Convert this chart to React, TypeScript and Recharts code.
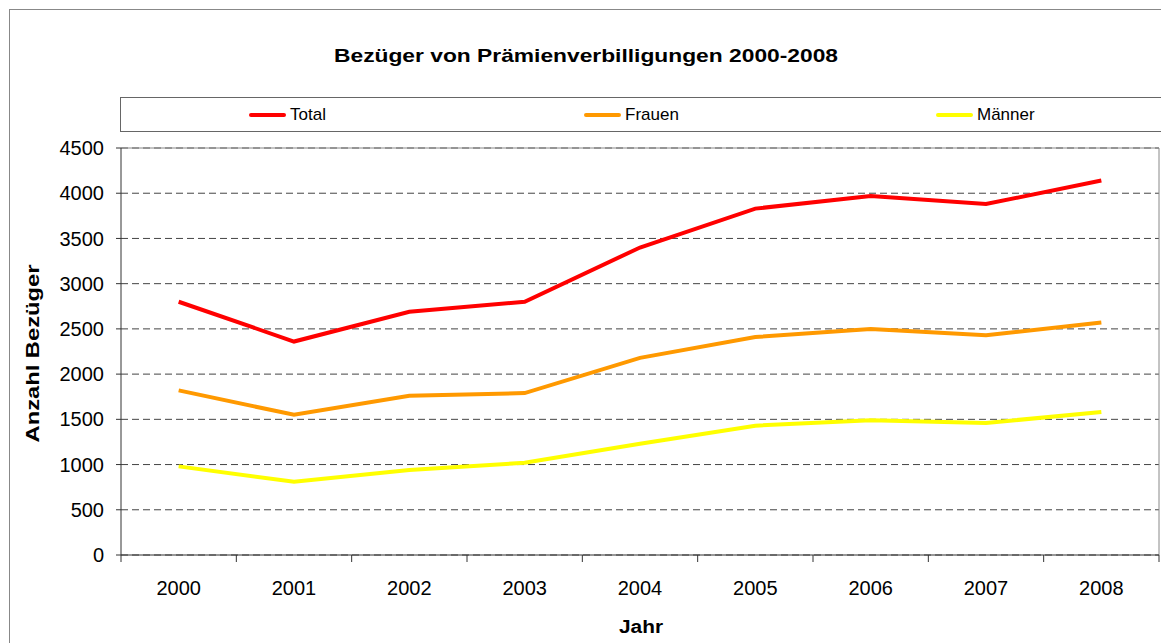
import React from 'react';
import { LineChart, Line, XAxis, YAxis, CartesianGrid, ReferenceLine, Legend, Label } from 'recharts';

const years = ['2000', '2001', '2002', '2003', '2004', '2005', '2006', '2007', '2008'];
const total = [2800, 2360, 2690, 2800, 3400, 3830, 3970, 3880, 4140];
const frauen = [1820, 1550, 1760, 1790, 2180, 2410, 2500, 2430, 2570];
const maenner = [980, 810, 940, 1020, 1230, 1430, 1490, 1460, 1580];
const yTicks = [0, 500, 1000, 1500, 2000, 2500, 3000, 3500, 4000, 4500];
const seriesNames = ['Total', 'Frauen', 'Männer'];
const seriesColors = ['#ff0000', '#ff9900', '#ffff00'];
const titleText = 'Bezüger von Prämienverbilligungen 2000-2008';
const yLabel = 'Anzahl Bezüger';
const xLabel = 'Jahr';

const data = years.map((y, i) => ({ year: y, Total: total[i], Frauen: frauen[i], Männer: maenner[i] }));

const FONT = '"Liberation Sans", Arial, sans-serif';
const W = 1161;
const H = 643;
const MARGIN = { top: 148, right: 2, bottom: 0, left: 0 };
const Y_W = 121;
const X_H = 88;
const BW = (W - MARGIN.left - MARGIN.right - Y_W) / years.length;
const LEGEND_LEFT = 120;
const LEGEND_ITEM_X = [248, 583, 935];

function XTick(props: any) {
  const { x, y, payload, index } = props;
  return (
    <g>
      <line x1={x - BW / 2} x2={x - BW / 2} y1={y} y2={y + 7} stroke="#333" strokeWidth={1} />
      {index === years.length - 1 ? (
        <line x1={x + BW / 2} x2={x + BW / 2} y1={y} y2={y + 7} stroke="#333" strokeWidth={1} />
      ) : null}
      <text x={x} y={y + 40} textAnchor="middle" fontSize={20} fill="#000" fontFamily={FONT}>
        {payload.value}
      </text>
    </g>
  );
}

function LegendBox() {
  return (
    <div
      style={{
        width: W + 4 - LEGEND_LEFT,
        height: 35,
        border: '1px solid #666',
        boxSizing: 'border-box',
        position: 'relative',
        background: '#fff',
        fontFamily: FONT,
      }}
    >
      {seriesNames.map((name, i) => (
        <div
          key={name}
          style={{
            position: 'absolute',
            left: LEGEND_ITEM_X[i] - LEGEND_LEFT,
            top: 0,
            height: 33,
            display: 'flex',
            alignItems: 'center',
          }}
        >
          <div style={{ width: 37, height: 4, background: seriesColors[i], borderRadius: 2 }} />
          <span style={{ marginLeft: 4, fontSize: 17, color: '#000' }}>{name}</span>
        </div>
      ))}
    </div>
  );
}

function YLabelContent(props: any) {
  const vb = props.viewBox || { x: 0, y: 0, width: 0, height: 0 };
  const bx = vb.x + 39;
  const cy = vb.y + vb.height / 2 + 2;
  return (
    <text
      x={bx}
      y={cy}
      transform={`rotate(-90 ${bx} ${cy})`}
      textAnchor="middle"
      textLength={178}
      lengthAdjust="spacingAndGlyphs"
      fontFamily={FONT}
      fontWeight="bold"
      fontSize={19}
      fill="#000"
    >
      {yLabel}
    </text>
  );
}

function XLabelContent(props: any) {
  const vb = props.viewBox || { x: 0, y: 0, width: 0, height: 0 };
  const cx = vb.x + vb.width / 2 + 1;
  const by = vb.y + 78;
  return (
    <text
      x={cx}
      y={by}
      textAnchor="middle"
      textLength={44}
      lengthAdjust="spacingAndGlyphs"
      fontFamily={FONT}
      fontWeight="bold"
      fontSize={18}
      fill="#000"
    >
      {xLabel}
    </text>
  );
}

export default function App() {
  return (
    <div style={{ position: 'absolute', left: 0, top: 0, width: W, height: H, overflow: 'hidden', background: '#fff' }}>
      <div
        style={{
          position: 'absolute',
          left: 9,
          top: 9,
          width: W + 50,
          height: H + 50,
          border: '1px solid #888',
        }}
      />
      <svg width={W} height={90} style={{ position: 'absolute', left: 0, top: 0 }}>
        <text
          x={586}
          y={62}
          textAnchor="middle"
          textLength={504}
          lengthAdjust="spacingAndGlyphs"
          fontFamily={FONT}
          fontWeight="bold"
          fontSize={19}
          fill="#000"
        >
          {titleText}
        </text>
      </svg>
      <div style={{ position: 'absolute', left: 0, top: 0 }}>
        <LineChart width={W} height={H} data={data} margin={MARGIN}>
          <CartesianGrid vertical={false} strokeDasharray="7 4" stroke="#444" />
          <ReferenceLine y={4500} stroke="#888" strokeWidth={1} />
          <ReferenceLine x="2008" position="end" stroke="#888" strokeWidth={1} />
          <XAxis
            dataKey="year"
            scale="band"
            interval={0}
            height={X_H}
            tickSize={0}
            tickMargin={0}
            tickLine={false}
            axisLine={{ stroke: '#333', strokeWidth: 1 }}
            tick={<XTick />}
          >
            <Label value={xLabel} content={<XLabelContent />} />
          </XAxis>
          <YAxis
            width={Y_W}
            domain={[0, 4500]}
            ticks={yTicks}
            interval={0}
            tickSize={5}
            tickMargin={12}
            axisLine={{ stroke: '#333', strokeWidth: 1 }}
            tickLine={{ stroke: '#333', strokeWidth: 1 }}
            tick={{ fontSize: 20, fill: '#000', fontFamily: FONT }}
          >
            <Label value={yLabel} content={<YLabelContent />} />
          </YAxis>
          <Legend
            layout="vertical"
            align="center"
            verticalAlign="middle"
            wrapperStyle={{ position: 'absolute', left: LEGEND_LEFT, top: 97, width: W + 4 - LEGEND_LEFT, height: 35 }}
            content={<LegendBox />}
          />
          {seriesNames.map((name, i) => (
            <Line
              key={name}
              type="linear"
              dataKey={name}
              stroke={seriesColors[i]}
              strokeWidth={4}
              dot={false}
              activeDot={false}
              isAnimationActive={false}
            />
          ))}
        </LineChart>
      </div>
    </div>
  );
}
